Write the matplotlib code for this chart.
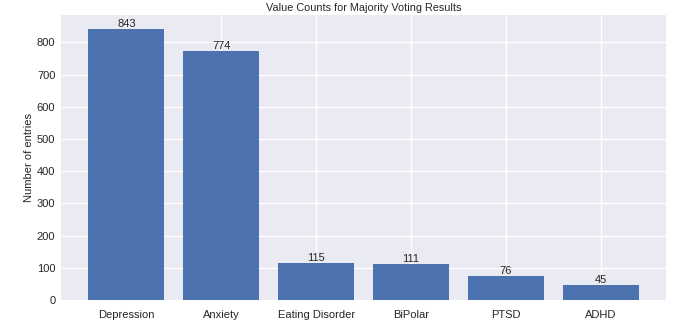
import matplotlib
matplotlib.use("Agg")
import matplotlib.pyplot as plt

categories = ["Depression", "Anxiety", "Eating Disorder", "BiPolar", "PTSD", "ADHD"]
counts = [843, 774, 115, 111, 76, 45]

plt.style.use("seaborn-v0_8")
plt.rcParams['font.family'] = ['Liberation Sans', 'DejaVu Sans']
fig, ax = plt.subplots(figsize=(6.84, 3.25), dpi=100)
fig.subplots_adjust(left=0.089, right=0.974, top=0.954, bottom=0.077)
bars = ax.bar(categories, counts, color="#4C72B0")
ax.bar_label(bars, labels=[str(c) for c in counts], fontsize=8, padding=0)
ax.set_title("Value Counts for Majority Voting Results", fontsize=7.8, pad=3)
ax.tick_params(axis="both", labelsize=8)
ax.tick_params(axis="y", pad=4)
ax.set_ylabel("Number of entries", fontsize=8, labelpad=2)
ax.set_yticks([0, 100, 200, 300, 400, 500, 600, 700, 800])
fig.savefig("out.png", dpi=100)
